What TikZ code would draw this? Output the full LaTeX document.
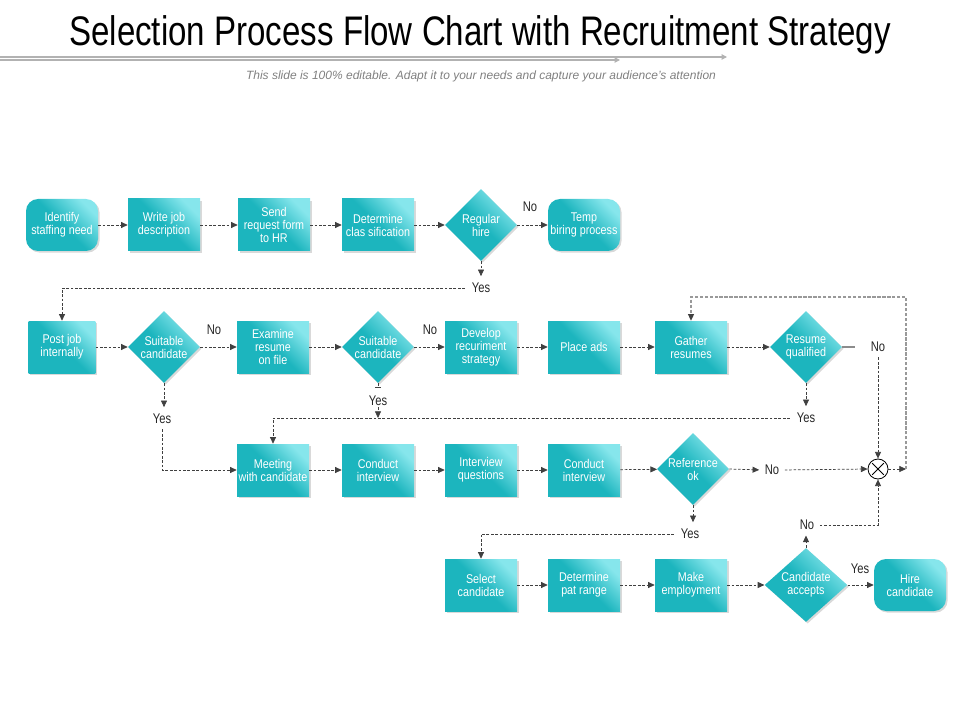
\documentclass[tikz,border=0pt]{standalone}
\usepackage{fontspec}
\setmainfont{Liberation Sans}
\newfontfamily\narrowfont[FakeStretch=0.8]{Liberation Sans}
\newfontfamily\boxfont[FakeStretch=0.85]{Liberation Sans}
\usetikzlibrary{shapes.geometric,arrows.meta,shadows,calc}
\definecolor{tealA}{HTML}{1CB5BE}
\definecolor{tealB}{HTML}{86E6EC}
\definecolor{lineC}{HTML}{404040}
\tikzset{
  base/.style={draw=none, text=white, align=center, inner sep=1pt,
    font=\boxfont\fontsize{9.5}{9.75}\selectfont,
    top color=tealB, bottom color=tealA, middle color=tealA, shading angle=-45,
    drop shadow={shadow xshift=1.2pt, shadow yshift=-1.2pt, opacity=0.3, fill=black!50}},
  box/.style={base, rectangle, minimum width=54pt, minimum height=39pt},
  rbox/.style={base, rectangle, rounded corners=9pt, minimum width=54pt, minimum height=39pt},
  dia/.style={base, diamond, minimum width=54pt, minimum height=54pt, inner sep=0pt},
  lab/.style={text=black!85, font=\narrowfont\fontsize{10.5}{11}\selectfont, inner sep=1pt},
  flow/.style={draw=lineC, dash pattern=on 2pt off 1.3pt, line width=0.55pt},
  arr/.style={flow, -{Triangle[length=5pt,width=4.5pt]}},
  loopline/.style={draw=black!40, dash pattern=on 2.5pt off 1.2pt, line width=0.9pt,
    -{Triangle[length=5pt,width=4.5pt,color=lineC]}},
  titleline/.style={draw=black!30, line width=0.8pt, -{Triangle[length=4pt,width=4pt]}}
}
\begin{document}
\begin{tikzpicture}[x=0.75pt,y=-0.75pt]
\useasboundingbox (0,0) rectangle (960,720);
% title
\node[font=\narrowfont\fontsize{31}{34}\selectfont, text=black] (title) at (480,35) {Selection Process Flow Chart with Recruitment Strategy};
\coordinate (l1s) at (0,57); \coordinate (l1e) at (727,57);
\coordinate (l2s) at (0,60); \coordinate (l2e) at (620,60);
\draw[titleline] (l1s) -- (l1e);
\draw[titleline] (l2s) -- (l2e);
\node[font=\itshape\fontsize{9}{10}\selectfont, text=black!50] (sub) at (481,76) {This slide is 100\% editable. Adapt it to your needs and capture your audience's attention};

% row 1
\node[rbox] (id) at (62,225) {Identify\\staffing  need};
\node[box] (wjd) at (164,225) {Write job\\description};
\node[box] (srf) at (274,225) {Send\\request form\\to HR};
\node[box] (dc) at (378,225) {Determine\\clas sification};
\node[dia] (rh) at (481,225) {Regular\\hire};
\node[rbox] (temp) at (584,225) {Temp\\biring process};

% row 2
\node[box, minimum width=50pt] (pji) at (62,347) {Post job\\internally};
\node[dia] (sc1) at (164,347) {Suitable\\candidate};
\node[box] (erf) at (273,347) {Examine\\resume\\on file};
\node[dia] (sc2) at (378,347) {Suitable\\candidate};
\node[box] (drs) at (481,347) {Develop\\recuriment\\strategy};
\node[box] (pa) at (584,347) {Place ads};
\node[box] (gr) at (691,347) {Gather\\resumes};
\node[dia] (rq) at (806,347) {Resume\\qualified};

% row 3
\node[box] (mwc) at (273,470) {Meeting\\with candidate};
\node[box] (ci1) at (378,470) {Conduct\\interview};
\node[box] (iq) at (481,470) {Interview\\questions};
\node[box] (ci2) at (584,470) {Conduct\\interview};
\node[dia] (ro) at (693,469) {Reference\\ok};
\node[circle, draw=black, fill=white, minimum size=15pt, inner sep=0pt, line width=0.6pt] (mix) at (878,469) {};
\draw[line width=0.6pt, shorten <=1.6pt, shorten >=1.6pt] (mix.45) -- (mix.225);
\draw[line width=0.6pt, shorten <=1.6pt, shorten >=1.6pt] (mix.135) -- (mix.315);

% row 4
\node[box] (sel) at (481,585) {Select\\candidate};
\node[box] (dpr) at (584,585) {Determine\\pat range};
\node[box] (me) at (691,585) {Make\\employment};
\node[dia, minimum width=62pt] (ca) at (806,585) {Candidate\\accepts};
\node[rbox] (hire) at (910,585) {Hire\\candidate};

% labels
\node[lab] (noRH) at (530,207) {No};
\node[lab] (yesRH) at (481,288) {Yes};
\node[lab] (noSC1) at (214,330) {No};
\node[lab] (yesSC1) at (162,419) {Yes};
\node[lab] (noSC2) at (430,330) {No};
\node[lab] (yesSC2) at (378,401) {Yes};
\node[lab] (noRQ) at (878,347) {No};
\node[lab] (yesRQ) at (806,418) {Yes};
\node[lab] (noRO) at (772,470) {No};
\node[lab] (yesRO) at (690,534) {Yes};
\node[lab] (noCA) at (807,525) {No};
\node[lab] (yesCA) at (860,569) {Yes};

% row 1 connectors
\draw[arr] (id) -- (wjd);
\draw[arr] (wjd) -- (srf);
\draw[arr] (srf) -- (dc);
\draw[arr] (dc) -- (rh);
\draw[arr] (rh) -- (temp);
\draw[arr, shorten >=4pt] (rh.south) -- (yesRH.north);
\draw[arr, shorten <=4pt] (yesRH.west) -| (pji.north);

% row 2 connectors
\draw[arr] (pji) -- (sc1);
\draw[arr] (sc1) -- (erf);
\draw[arr] (erf) -- (sc2);
\draw[arr] (sc2) -- (drs);
\draw[arr] (drs) -- (pa);
\draw[arr] (pa) -- (gr);
\draw[arr] (gr) -- (rq);
\coordinate (rqend) at (855,347);
\draw[draw=black!45, line width=0.9pt] (rq.east) -- (rqend);
\draw[arr, shorten <=3pt] (noRQ.south) -- (mix.north);
\draw[arr, shorten >=4pt] (sc1.south) -- (sc1.south |- yesSC1.north);
\draw[arr, shorten <=3pt] (yesSC1.south) |- (mwc.west);
\draw[flow, -{Bar[width=4pt]}, shorten >=5pt] (sc2.south) -- (yesSC2.north);
\draw[arr] (yesSC2.south) -- (yesSC2.south |- yesRQ.west);
\draw[arr, shorten >=4pt] (rq.south) -- (yesRQ.north);
\draw[arr, shorten <=4pt] (yesRQ.west) -| (mwc.north);

% row 3 connectors
\draw[arr] (mwc) -- (ci1);
\draw[arr] (ci1) -- (iq);
\draw[arr] (iq) -- (ci2);
\draw[arr] (ci2) -- (ro);
\draw[arr, shorten >=3pt] (ro.east) -- (noRO.west);
\draw[arr, shorten <=3pt] (noRO.east) -- (mix.west);
\draw[arr, shorten >=4pt] (ro.south) -- (ro.south |- yesRO.north);
\draw[arr, shorten <=4pt] (yesRO.west) -| (sel.north);
\coordinate (loopc) at (906,469);
\coordinate (looptop) at (906,297);
\draw[arr] (mix.east) -- (loopc);
\draw[loopline] (loopc) -- (looptop) -| (gr.north);

% row 4 connectors
\draw[arr] (sel) -- (dpr);
\draw[arr] (dpr) -- (me);
\draw[arr] (me) -- (ca);
\draw[arr] (ca) -- (hire);
\draw[arr, shorten >=3pt] (ca.north) -- (ca.north |- noCA.south);
\draw[arr, shorten <=3pt] (noCA.east) -| (mix.south);
\end{tikzpicture}
\end{document}
